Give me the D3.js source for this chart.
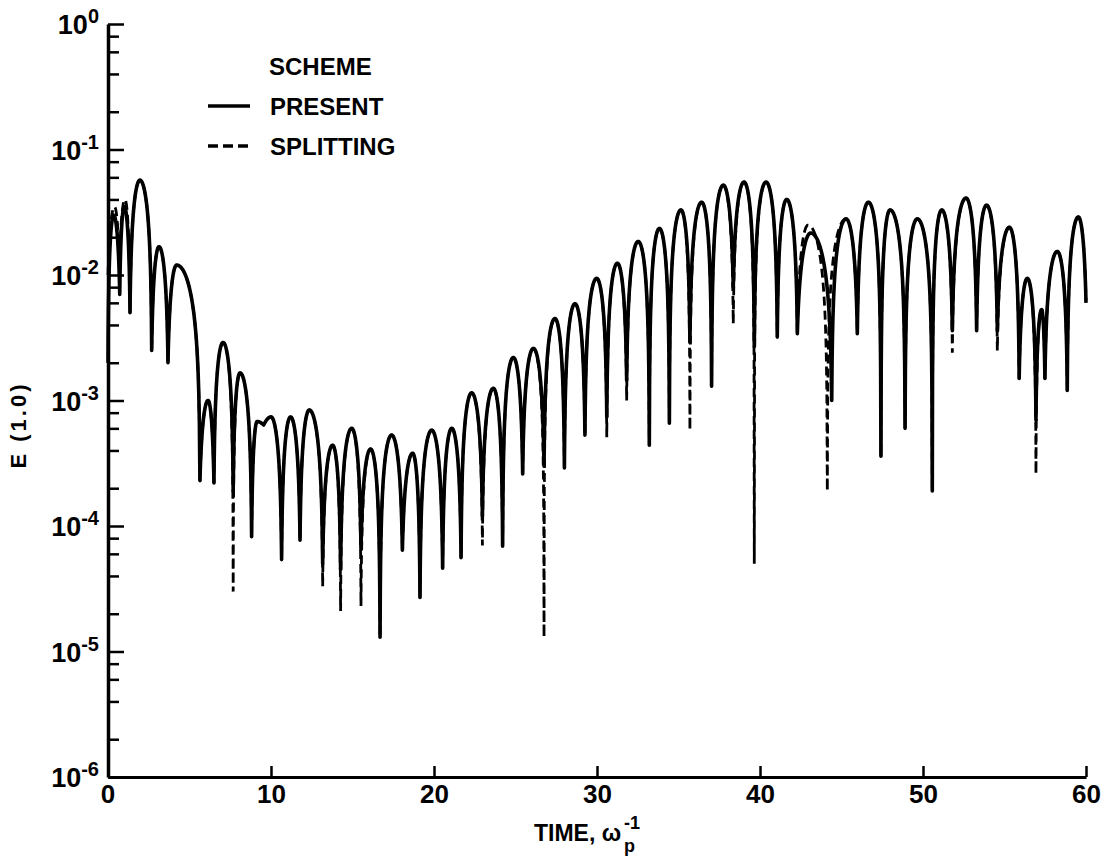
<!DOCTYPE html>
<html><head><meta charset="utf-8">
<script src="https://cdn.jsdelivr.net/npm/d3@7/dist/d3.min.js"></script>
<style>
body{margin:0;background:#fff;}
text{font-family:"Liberation Sans",Arial,Helvetica,sans-serif;font-weight:bold;fill:#000;}
</style></head>
<body>
<svg id="chart" width="1108" height="861"></svg>
<script>
// ---------------- data ----------------
// alternating minima / maxima of E(1,0) versus time
const presentTime = [0,0.35,0.72,1.0,1.35,1.96,2.68,3.13,3.68,4.21,5.64,6.14,6.5,7.06,7.68,8.1,8.81,9.15,9.55,10.0,10.65,11.2,11.78,12.35,13.17,13.78,14.27,14.95,15.52,16.11,16.69,17.4,18.06,18.69,19.14,19.86,20.53,21.09,21.66,22.31,22.97,23.64,24.21,24.87,25.44,26.1,26.75,27.42,28.0,28.65,29.26,29.98,30.6,31.25,31.82,32.53,33.21,33.83,34.44,35.15,35.7,36.42,37.03,37.75,38.36,39.02,39.65,40.37,41.06,41.64,42.29,43.11,44.4,45.28,45.97,46.65,47.42,47.98,48.9,49.65,50.57,51.15,51.8,52.64,53.29,53.9,54.56,55.3,55.9,56.4,56.93,57.28,57.48,58.24,58.85,59.53,60];
const presentE = [0.002,0.03,0.007,0.035,0.005,0.057,0.0025,0.0168,0.002,0.012,0.00023,0.001,0.00022,0.0029,0.00019,0.00166,0.000082,0.00068,0.00064,0.00074,0.000054,0.00074,0.000077,0.00084,0.00005,0.00044,0.000045,0.0006,0.000065,0.00041,0.000013,0.00053,0.000064,0.00038,0.000027,0.00058,0.000046,0.0006,0.000056,0.00115,0.00012,0.00125,0.000069,0.0022,0.00026,0.0026,0.0003,0.0045,0.00029,0.0059,0.00053,0.0094,0.00074,0.0124,0.00145,0.0185,0.00044,0.0235,0.00066,0.033,0.0029,0.038,0.0013,0.052,0.008,0.055,0.0027,0.055,0.0032,0.04,0.0034,0.0216,0.001,0.028,0.0034,0.038,0.00036,0.033,0.0006,0.028,0.00019,0.033,0.0036,0.041,0.0036,0.036,0.0036,0.024,0.0015,0.0094,0.0007,0.0053,0.0015,0.0154,0.0012,0.029,0.006];

const splittingTime = [0,0.4,0.7,1.04,1.35,1.96,2.68,3.13,3.68,4.21,5.64,6.14,6.5,7.06,7.68,8.1,8.81,9.15,9.55,10.0,10.65,11.2,11.78,12.35,13.17,13.78,14.27,14.95,15.52,16.11,16.69,17.4,18.06,18.69,19.14,19.86,20.53,21.09,21.66,22.31,22.97,23.64,24.21,24.87,25.44,26.1,26.75,27.42,28.0,28.65,29.26,29.98,30.6,31.25,31.82,32.53,33.21,33.83,34.44,35.15,35.7,36.42,37.03,37.75,38.36,39.02,39.65,40.37,41.06,41.64,42.29,42.95,44.13,45.28,45.97,46.65,47.42,47.98,48.9,49.65,50.57,51.15,51.8,52.64,53.29,53.9,54.56,55.3,55.9,56.4,56.93,57.28,57.48,58.24,58.85,59.53,60];
const splittingE = [0.01,0.035,0.012,0.04,0.005,0.057,0.0025,0.0168,0.002,0.012,0.00023,0.001,0.00022,0.0029,0.00003,0.00166,0.000082,0.00068,0.00064,0.00074,0.000054,0.00074,0.000077,0.00084,0.000033,0.00044,0.000021,0.0006,0.000023,0.00041,0.000013,0.00053,0.000064,0.00038,0.000027,0.00058,0.000046,0.0006,0.000056,0.00115,0.00007,0.00125,0.000069,0.0022,0.00026,0.0026,0.000013,0.0045,0.00029,0.0059,0.00053,0.0094,0.00051,0.0124,0.001,0.0185,0.00044,0.0235,0.00066,0.033,0.00058,0.038,0.0013,0.052,0.0041,0.055,0.00005,0.055,0.0032,0.04,0.0034,0.025,0.00019,0.028,0.0034,0.038,0.00036,0.033,0.0006,0.028,0.00019,0.033,0.0024,0.041,0.0036,0.036,0.0025,0.024,0.0015,0.0094,0.00026,0.0053,0.0015,0.0154,0.0012,0.029,0.0063];

const xTickValues = [10,20,30,40,50,60];
const xTickLabels = ["10","20","30","40","50","60"];
const xLabelZero = "0";
const yExponents = [0,-1,-2,-3,-4,-5,-6];
const yMinorMultipliers = [2,4,6,8];
const legendTitle = "SCHEME";
const seriesNames = ["PRESENT","SPLITTING"];
const xAxisTitle = "TIME, ω";
const yAxisTitle = "E (1.0)";

// ---------------- drawing ----------------
const svg = d3.select("#chart");
const plotLeft = 108, plotRight = 1086, plotTop = 24, plotBottom = 777;
const x = d3.scaleLinear().domain([0,60]).range([plotLeft,plotRight]);
const y = d3.scaleLog().domain([1e-6,1]).range([plotBottom,plotTop]);

// custom curve: arches between successive minima/maxima (|sin|-like lobes)
function lobeCurve(ys, steps){
  return function(context){
    let pts=[];
    return {
      areaStart(){}, areaEnd(){},
      lineStart(){pts=[];},
      point(px,py){pts.push([px,py]);},
      lineEnd(){
        if(!pts.length) return;
        context.moveTo(pts[0][0],pts[0][1]);
        for(let i=0;i<pts.length-1;i++){
          const [xa,ya]=pts[i],[xb,yb]=pts[i+1];
          const va=ys.invert(ya), vb=ys.invert(yb);
          for(let k=1;k<=steps;k++){
            const s=k/steps;
            let v;
            if(vb>=va) v = va+(vb-va)*Math.sin(Math.PI*s/2);
            else v = vb+(va-vb)*Math.cos(Math.PI*s/2);
            context.lineTo(xa+(xb-xa)*s, ys(v));
          }
        }
      }
    };
  };
}

const line = d3.line().x(d=>x(d[0])).y(d=>y(d[1])).curve(lobeCurve(y,40));
const present = presentTime.map((t,i)=>[t,presentE[i]]);
const splitting = splittingTime.map((t,i)=>[t,splittingE[i]]);

svg.append("path").datum(present).attr("d",line)
  .attr("fill","none").attr("stroke","#000").attr("stroke-width",3.6).attr("stroke-linejoin","round");
svg.append("path").datum(splitting).attr("d",line)
  .attr("fill","none").attr("stroke","#000").attr("stroke-width",2.8).attr("stroke-dasharray","9,5");

// x axis
const xAxis = d3.axisBottom(x).tickValues(xTickValues).tickSizeInner(-11).tickSizeOuter(0)
  .tickPadding(8).tickFormat((d,i)=>xTickLabels[i]);
const gx = svg.append("g").attr("transform",`translate(0,${plotBottom})`).call(xAxis);
gx.select(".domain").attr("stroke-width",3);
gx.selectAll(".tick line").attr("stroke-width",2.5);
gx.selectAll(".tick text").attr("font-size",26).attr("dy","0.71em").attr("fill","#000");
svg.append("text").attr("x",x(0)).attr("y",plotBottom+8).attr("dy","0.71em")
  .attr("text-anchor","middle").attr("font-size",26).text(xLabelZero);

// y axis: major + minor ticks inside
const majorVals = yExponents.map(e=>Math.pow(10,e));
const minorVals = [];
yExponents.slice(1).forEach(e=>yMinorMultipliers.forEach(m=>minorVals.push(m*Math.pow(10,e))));
const gyMinor = svg.append("g").attr("transform",`translate(${plotLeft},0)`)
  .call(d3.axisLeft(y).tickValues(minorVals).tickSizeInner(-11).tickSizeOuter(0).tickFormat(""));
gyMinor.select(".domain").remove();
gyMinor.selectAll(".tick line").attr("stroke-width",2.5);
const gy = svg.append("g").attr("transform",`translate(${plotLeft},0)`)
  .call(d3.axisLeft(y).tickValues(majorVals).tickSizeInner(-16).tickSizeOuter(0).tickFormat(""));
gy.select(".domain").attr("stroke-width",3.5);
gy.selectAll(".tick line").attr("stroke-width",2.5);

yExponents.forEach(e=>{
  const t = svg.append("text").attr("x",99).attr("y",y(Math.pow(10,e))+10)
    .attr("text-anchor","end").attr("font-size",27);
  t.append("tspan").text("10");
  t.append("tspan").attr("dy",-11).attr("font-size",20).text(e===0?"0":"-"+Math.abs(e));
});

// axis titles
svg.append("text").attr("transform","translate(26,425) rotate(-90)")
  .attr("text-anchor","middle").attr("font-size",22).attr("letter-spacing",3).text(yAxisTitle);
svg.append("text").attr("x",534).attr("y",841).attr("font-size",23).text(xAxisTitle);
svg.append("text").attr("x",624).attr("y",852).attr("font-size",18).text("p");
svg.append("text").attr("x",624).attr("y",829).attr("font-size",18).text("-1");

// legend
svg.append("text").attr("x",269).attr("y",75).attr("font-size",24).text(legendTitle);
const lg = svg.append("g");
seriesNames.forEach((name,i)=>{
  const yy = 106 + i*40;
  lg.append("line").attr("x1",208).attr("x2",250).attr("y1",yy).attr("y2",yy)
    .attr("stroke","#000").attr("stroke-width",3.5)
    .attr("stroke-dasharray", i===1 ? "10,5" : null);
  lg.append("text").attr("x",270).attr("y",yy+9).attr("font-size",24).text(name);
});
</script>
</body></html>
